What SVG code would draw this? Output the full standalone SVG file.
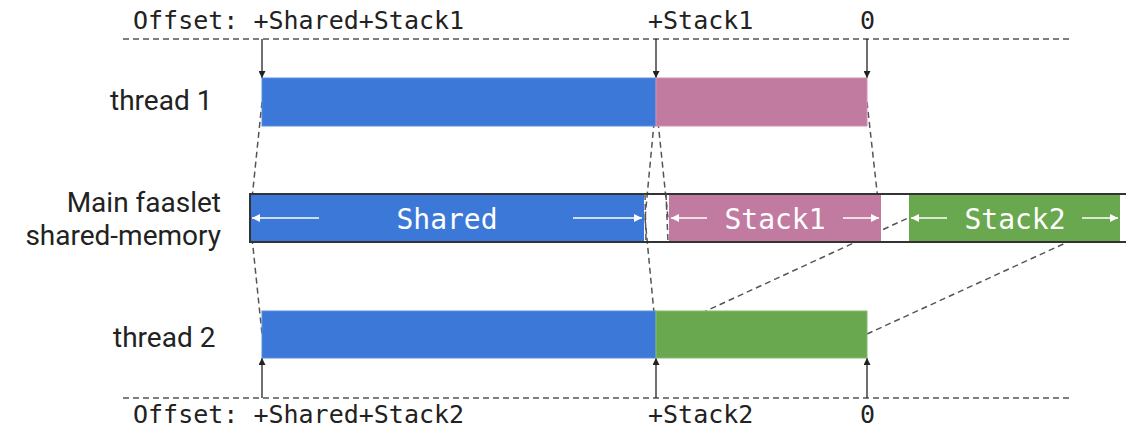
<svg xmlns="http://www.w3.org/2000/svg" width="1126" height="430" viewBox="0 0 1126 430">
  <style>
    .mono { font-family: "DejaVu Sans Mono", "Liberation Mono", monospace; font-size: 25px; fill: #222; }
    .label { font-family: Roboto, "Liberation Sans", sans-serif; font-size: 28px; fill: #222; }
    .seg { font-family: "DejaVu Sans Mono", "Liberation Mono", monospace; font-size: 28px; fill: #fff; text-anchor: middle; }
    .guide { stroke: #555; stroke-width: 1.3; stroke-dasharray: 6 4; fill: none; }
    .map { stroke: #555; stroke-width: 1.5; stroke-dasharray: 6 4; fill: none; }
    .ptr { stroke: #222; stroke-width: 1.3; fill: none; marker-end: url(#ptrHead); }
    .span { stroke: #fff; stroke-width: 1.5; fill: none; marker-end: url(#spanHead); }
    .shared { fill: #3c78d8; stroke: #5a8ee0; stroke-width: 1; }
    .stack1 { fill: #c27ba0; stroke: #cf92b2; stroke-width: 1; }
    .stack2 { fill: #6aa84f; stroke: #86bb6f; stroke-width: 1; }
  </style>
  <defs>
    <marker id="ptrHead" viewBox="0 0 10 10" refX="10" refY="5" markerWidth="7" markerHeight="7" markerUnits="userSpaceOnUse" orient="auto">
      <path d="M0,0 L10,5 L0,10 z" fill="#222"/>
    </marker>
    <marker id="spanHead" viewBox="0 0 10 10" refX="10" refY="5" markerWidth="8" markerHeight="8" markerUnits="userSpaceOnUse" orient="auto">
      <path d="M0,0 L10,5 L0,10 z" fill="#fff"/>
    </marker>
  </defs>

  <rect width="1126" height="430" fill="#fff"/>

  <!-- offset rulers -->
  <g id="offsets-top">
    <line class="guide" x1="123" y1="39" x2="1073" y2="39"/>
    <text class="mono" x="133" y="29">Offset: +Shared+Stack1</text>
    <text class="mono" x="648" y="29">+Stack1</text>
    <text class="mono" x="860" y="29">0</text>
  </g>
  <g id="offsets-bottom">
    <line class="guide" x1="123" y1="398" x2="1073" y2="398"/>
    <text class="mono" x="133" y="423">Offset: +Shared+Stack2</text>
    <text class="mono" x="648" y="423">+Stack2</text>
    <text class="mono" x="860" y="423">0</text>
  </g>

  <!-- mapping lines between regions, drawn under the bars -->
  <g id="connectors">
    <line class="map" x1="262" y1="102" x2="250" y2="218"/>
    <line class="map" x1="656" y1="102" x2="645" y2="218"/>
    <line class="map" x1="656" y1="102" x2="668" y2="218"/>
    <line class="map" x1="867" y1="102" x2="880" y2="218"/>
    <line class="map" x1="250" y1="218" x2="262" y2="334"/>
    <line class="map" x1="645" y1="218" x2="656" y2="334"/>
    <line class="map" x1="656" y1="334" x2="908" y2="218"/>
    <line class="map" x1="867" y1="334" x2="1120" y2="218"/>
    <line class="ptr" x1="262" y1="39" x2="262" y2="78"/>
    <line class="ptr" x1="656" y1="39" x2="656" y2="78"/>
    <line class="ptr" x1="867" y1="39" x2="867" y2="78"/>
    <line class="ptr" x1="262" y1="398" x2="262" y2="358"/>
    <line class="ptr" x1="656" y1="398" x2="656" y2="358"/>
    <line class="ptr" x1="867" y1="398" x2="867" y2="358"/>
  </g>

  <!-- thread 1 -->
  <g id="thread1">
    <text class="label" x="110" y="110">thread 1</text>
    <rect class="shared" x="262" y="78" width="394" height="48"/>
    <rect class="stack1" x="656" y="78" width="211" height="48"/>
  </g>

  <!-- main faaslet shared memory -->
  <g id="main-memory">
    <text class="label" x="221" y="212" text-anchor="end">Main faaslet</text>
    <text class="label" x="221" y="245" text-anchor="end">shared-memory</text>
    <rect x="250" y="194" width="900" height="48" fill="none" stroke="#333" stroke-width="2"/>
    <rect x="250" y="195" width="394" height="46" fill="#3c78d8"/>
    <rect x="669" y="195" width="212" height="46" fill="#c27ba0"/>
    <rect x="909" y="195" width="211" height="46" fill="#6aa84f"/>
    <line x1="250" y1="194" x2="250" y2="242" stroke="#333" stroke-width="2"/>
    <line class="map" x1="645" y1="194" x2="646" y2="242"/>
    <line class="map" x1="666" y1="194" x2="668" y2="242"/>
    <line class="span" x1="319" y1="218" x2="252" y2="218"/>
    <line class="span" x1="573" y1="218" x2="642" y2="218"/>
    <text class="seg" x="447" y="229">Shared</text>
    <line class="span" x1="707" y1="218" x2="671" y2="218"/>
    <line class="span" x1="843" y1="218" x2="879" y2="218"/>
    <text class="seg" x="775" y="229">Stack1</text>
    <line class="span" x1="947" y1="218" x2="911" y2="218"/>
    <line class="span" x1="1082" y1="218" x2="1118" y2="218"/>
    <text class="seg" x="1015" y="229">Stack2</text>
  </g>

  <!-- thread 2 -->
  <g id="thread2">
    <text class="label" x="113" y="347">thread 2</text>
    <rect class="shared" x="262" y="311" width="394" height="47"/>
    <rect class="stack2" x="656" y="311" width="211" height="47"/>
  </g>
</svg>
